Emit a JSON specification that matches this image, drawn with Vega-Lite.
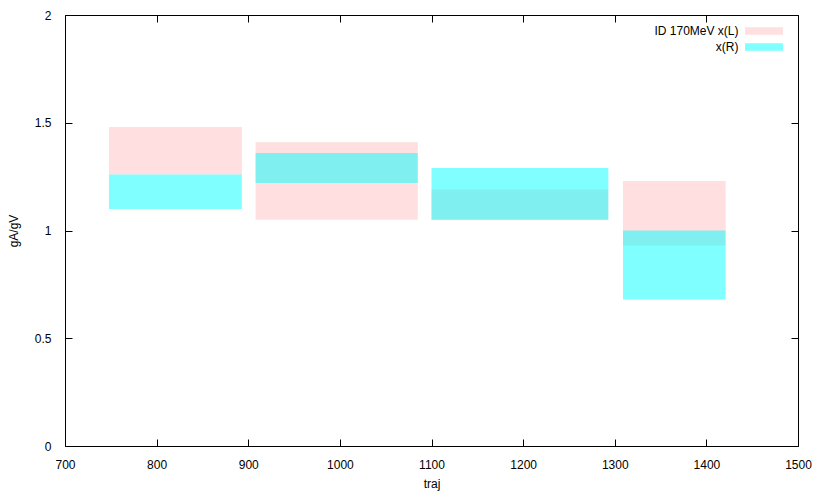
{
  "$schema": "https://vega.github.io/schema/vega-lite/v6.json",
  "width": 733,
  "height": 431,
  "autosize": {"type": "none"},
  "padding": {"left": 65, "top": 15, "right": 32, "bottom": 52},
  "background": "white",
  "config": {
    "view": {"stroke": "black", "strokeWidth": 1},
    "font": "Liberation Sans",
    "axis": {
      "grid": false,
      "domain": false,
      "tickSize": -7,
      "tickColor": "black",
      "tickWidth": 1,
      "labelFlush": false,
      "labelOverlap": false,
      "labelFont": "Liberation Sans",
      "labelFontSize": 12,
      "labelColor": "black",
      "titleFont": "Liberation Sans",
      "titleFontSize": 12,
      "titleFontWeight": "normal",
      "titleColor": "black"
    },
    "legend": {
      "orient": "none",
      "legendX": 693,
      "legendY": 10,
      "title": null,
      "symbolType": "M-4,-0.8H4V0.8H-4Z",
      "symbolSize": 90.25,
      "symbolStrokeWidth": 0,
      "symbolOpacity": 0.5,
      "labelAlign": "right",
      "labelOffset": -31.5,
      "labelFont": "Liberation Sans",
      "labelFontSize": 12,
      "labelColor": "black",
      "labelLimit": 300,
      "rowPadding": 4
    }
  },
  "data": {
    "values": [
      {"series": "ID 170MeV x(L)", "traj_lo": 748, "traj_hi": 893, "lo": 1.26, "hi": 1.48},
      {"series": "ID 170MeV x(L)", "traj_lo": 908, "traj_hi": 1085, "lo": 1.05, "hi": 1.41},
      {"series": "ID 170MeV x(L)", "traj_lo": 1100, "traj_hi": 1293, "lo": 1.05, "hi": 1.19},
      {"series": "ID 170MeV x(L)", "traj_lo": 1309, "traj_hi": 1421, "lo": 0.93, "hi": 1.23},
      {"series": "x(R)", "traj_lo": 748, "traj_hi": 893, "lo": 1.10, "hi": 1.26},
      {"series": "x(R)", "traj_lo": 908, "traj_hi": 1085, "lo": 1.22, "hi": 1.36},
      {"series": "x(R)", "traj_lo": 1100, "traj_hi": 1293, "lo": 1.05, "hi": 1.29},
      {"series": "x(R)", "traj_lo": 1309, "traj_hi": 1421, "lo": 0.68, "hi": 1.00}
    ]
  },
  "layer": [
    {
      "mark": {"type": "rect", "opacity": 0.5},
      "encoding": {
        "x": {"field": "traj_lo", "type": "quantitative", "scale": {"domain": [700, 1500], "nice": false, "zero": false},
              "axis": {"orient": "bottom", "title": "traj", "format": "d", "values": [700,800,900,1000,1100,1200,1300,1400,1500], "labelPadding": 20, "titlePadding": 8}},
        "x2": {"field": "traj_hi"},
        "y": {"field": "lo", "type": "quantitative", "scale": {"domain": [0, 2], "nice": false},
              "axis": {"orient": "left", "title": "gA/gV", "format": "~g", "values": [0, 0.5, 1, 1.5, 2], "labelPadding": 21, "titlePadding": 14}},
        "y2": {"field": "hi"},
        "color": {"field": "series", "type": "nominal",
                  "scale": {"domain": ["ID 170MeV x(L)", "x(R)"], "range": ["#ffc0c0", "#00ffff"]}},
        "order": {"field": "series"}
      }
    },
    {
      "mark": {"type": "rect", "opacity": 0},
      "encoding": {
        "x": {"field": "traj_lo", "type": "quantitative",
              "axis": {"orient": "top", "title": null, "labels": false, "values": [700,800,900,1000,1100,1200,1300,1400,1500]}},
        "x2": {"field": "traj_hi"},
        "y": {"field": "lo", "type": "quantitative",
              "axis": {"orient": "right", "title": null, "labels": false, "values": [0, 0.5, 1, 1.5, 2]}},
        "y2": {"field": "hi"}
      }
    }
  ],
  "resolve": {"axis": {"x": "independent", "y": "independent"}}
}
